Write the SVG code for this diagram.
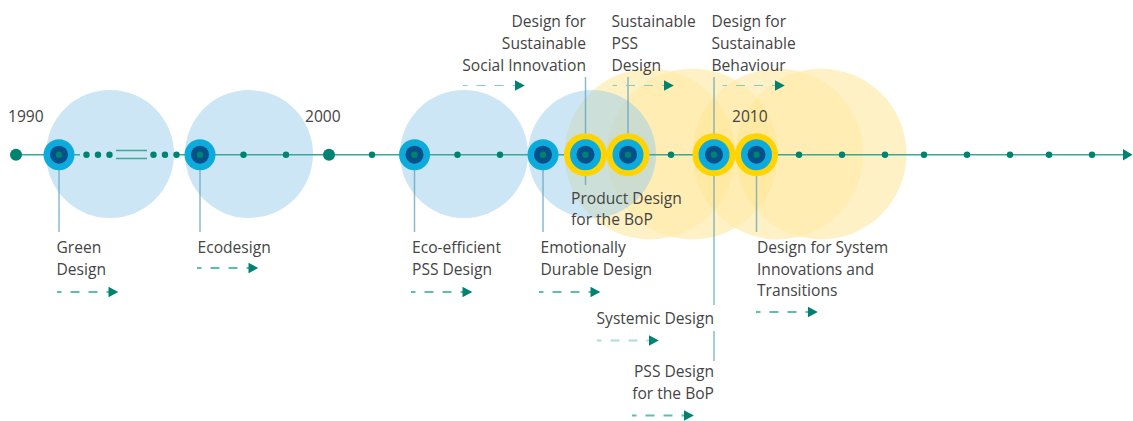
<svg xmlns="http://www.w3.org/2000/svg" width="1133" height="421" viewBox="0 0 1133 421">
<defs>
<style>
text{font-family:"Open Sans","Noto Sans","DejaVu Sans",sans-serif;font-size:15.6px;fill:#444}
.e{text-anchor:end}
.blue{fill:#99ceec;fill-opacity:.5}
.ybase{fill:#fff6da}
.yel{fill:#ffc800;fill-opacity:.09}
.axis{stroke:#3aa897;stroke-width:1.6;fill:none}
.d{fill:#008270}
.stem{stroke:#5f9fb8;stroke-opacity:.72;stroke-width:1.5;fill:none}
.dash{stroke:#5cbfae;stroke-width:1.8;stroke-dasharray:9 9;stroke-dashoffset:4.5;fill:none}
.thin{stroke:#7fcdbf;stroke-width:1.1;stroke-dasharray:9 9;stroke-dashoffset:4.5;fill:none}
.pale{stroke:#a9e0d6;stroke-width:1.8;stroke-dasharray:9 9;stroke-dashoffset:4.5;fill:none}
.ring{fill:#ffd400}
.c1{fill:#0dabdc}
.c2{fill:#05508a}
.c3{fill:#008270}
</style>
<g id="dot"><circle r="15.5" class="c1"/><circle r="9" class="c2"/><circle r="3.2" class="c3"/></g>
<g id="ydot"><circle r="21.5" class="ring"/><circle r="15.5" class="c1"/><circle r="9" class="c2"/><circle r="3.2" class="c3"/></g>
<path id="ah" d="M0-5.3L9.800 0L0 5.300Z" class="d"/>
</defs>
<g id="halos">
<circle class="ybase" cx="650" cy="154" r="85.500"/>
<circle class="ybase" cx="692.500" cy="154" r="85.500"/>
<circle class="ybase" cx="778" cy="154" r="85.500"/>
<circle class="ybase" cx="821" cy="154" r="85.500"/>
<circle class="yel" cx="650" cy="154" r="85.500"/>
<circle class="yel" cx="692.500" cy="154" r="85.500"/>
<circle class="yel" cx="778" cy="154" r="85.500"/>
<circle class="yel" cx="821" cy="154" r="85.500"/>
<circle class="blue" cx="110" cy="154" r="64"/>
<circle class="blue" cx="249" cy="154" r="64"/>
<circle class="blue" cx="464" cy="154" r="64"/>
<circle class="blue" cx="592" cy="154" r="64"/>
</g>
<g id="connectors">
<path class="axis" d="M16 154.700H80M176 154.700H1125"/>
<path class="axis" d="M116 150.500H147M116 158.500H147"/>
<path d="M1123 149L1132.500 154.700L1123 160.400Z" class="d"/>
<path class="stem" d="M59 170V232M200 170V232M414.500 170V232M543 170V232M585.500 77V140M585.500 170V185M628 77V140M714 77V140M714 170V305M714 331V361M756.500 170V232"/>
<path class="dash" d="M57 292H112"/><use href="#ah" x="108.500" y="292"/>
<path class="dash" d="M197 268H252"/><use href="#ah" x="248.500" y="268"/>
<path class="dash" d="M411 292H466"/><use href="#ah" x="462.500" y="292"/>
<path class="dash" d="M539 292H594"/><use href="#ah" x="590.500" y="292"/>
<path class="thin" d="M463 85.500H518"/><use href="#ah" x="515" y="85.500"/>
<path class="thin" d="M612.500 85.500H667"/><use href="#ah" x="664" y="85.500"/>
<path class="thin" d="M722.500 85.500H778"/><use href="#ah" x="775" y="85.500"/>
<path class="pale" d="M597 340.500H652"/><use href="#ah" x="649" y="340.500"/>
<path class="dash" d="M632 415.500H687"/><use href="#ah" x="684" y="415.500"/>
<path class="dash" d="M756 312H811"/><use href="#ah" x="808" y="312"/>
</g>
<g id="ticks">
<circle class="d" cx="16" cy="154.700" r="6"/><circle class="d" cx="329" cy="154.700" r="6"/>
<g class="d"><circle cx="86.500" cy="154.700" r="3.200"/><circle cx="98" cy="154.700" r="3.200"/><circle cx="109.500" cy="154.700" r="3.200"/><circle cx="153.500" cy="154.700" r="3.200"/><circle cx="165" cy="154.700" r="3.200"/><circle cx="176.500" cy="154.700" r="3.200"/>
<circle cx="243.500" cy="154.700" r="3.200"/><circle cx="286" cy="154.700" r="3.200"/><circle cx="372" cy="154.700" r="3.200"/><circle cx="457.500" cy="154.700" r="3.200"/><circle cx="500" cy="154.700" r="3.200"/><circle cx="671" cy="154.700" r="3.200"/><circle cx="799" cy="154.700" r="3.200"/><circle cx="842" cy="154.700" r="3.200"/><circle cx="885" cy="154.700" r="3.200"/><circle cx="924" cy="154.700" r="3.200"/><circle cx="967" cy="154.700" r="3.200"/><circle cx="1010" cy="154.700" r="3.200"/><circle cx="1049" cy="154.700" r="3.200"/><circle cx="1092" cy="154.700" r="3.200"/></g>
</g>
<g id="years"><text x="8" y="122">1990</text><text x="305" y="122">2000</text><text x="732" y="122">2010</text></g>
<g id="n-green"><use href="#dot" x="59" y="154.700"/><text x="56.500" y="253">Green</text><text x="56.500" y="275">Design</text></g>
<g id="n-eco"><use href="#dot" x="200" y="154.700"/><text x="197.500" y="253">Ecodesign</text></g>
<g id="n-eepss"><use href="#dot" x="414.500" y="154.700"/><text x="412" y="253">Eco-efficient</text><text x="412" y="275">PSS Design</text></g>
<g id="n-emo"><use href="#dot" x="543" y="154.700"/><text x="540.500" y="253">Emotionally</text><text x="540.500" y="275">Durable Design</text></g>
<g id="n-dssi"><use href="#ydot" x="585.500" y="154.700"/><text class="e" x="586" y="27">Design for</text><text class="e" x="586" y="49">Sustainable</text><text class="e" x="586" y="71">Social Innovation</text></g>
<g id="n-spss"><use href="#ydot" x="628" y="154.700"/><text x="611.500" y="27">Sustainable</text><text x="611.500" y="49">PSS</text><text x="611.500" y="71">Design</text></g>
<g id="n-sys"><use href="#ydot" x="714" y="154.700"/><text x="711.500" y="27">Design for</text><text x="711.500" y="49">Sustainable</text><text x="711.500" y="71">Behaviour</text></g>
<g id="n-sysinn"><use href="#ydot" x="756.500" y="154.700"/><text x="757" y="253">Design for System</text><text x="757" y="275">Innovations and</text><text x="757" y="296">Transitions</text></g>
<g id="l-pdbop"><text x="571" y="204">Product Design</text><text x="571" y="225">for the BoP</text></g>
<g id="l-systemic"><text class="e" x="714" y="324">Systemic Design</text></g>
<g id="l-pssbop"><text class="e" x="714" y="377">PSS Design</text><text class="e" x="714" y="399">for the BoP</text></g>
</svg>
